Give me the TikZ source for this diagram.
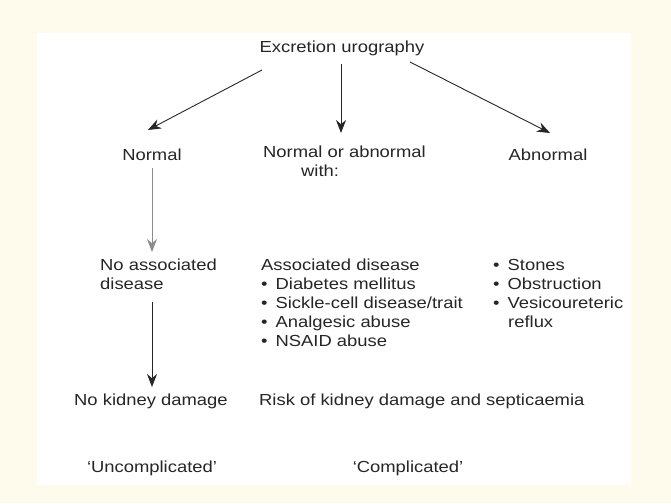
\documentclass[tikz,border=0pt]{standalone}
\usepackage{fontspec}
\setmainfont[FakeStretch=1.15]{Liberation Sans}
\usetikzlibrary{arrows.meta}
\definecolor{cream}{HTML}{FEFBEC}
\definecolor{ink}{HTML}{262626}
\tikzset{t/.style={inner sep=0pt,anchor=west,text=ink,font=\fontsize{16}{19}\selectfont},
 tc/.style={t,anchor=center},
 ar/.style={-{Stealth[length=13pt,width=10pt]},line width=0.9pt,draw=ink},
 lst/.style={t,anchor=north west,align=left}}
\begin{document}
\begin{tikzpicture}[x=1pt,y=-1pt]
\fill[cream] (0,0) rectangle (671,503);
\fill[white] (37,33) rectangle (631,485);
\node[tc] (ex) at (342,48) {Excretion urography};
\node[tc] (nor) at (152,155) {Normal};
\node[t,align=left,anchor=north west] (noa) at (263,146) {Normal or abnormal\\\hspace*{38pt}with:};
\node[tc] (ab) at (548,155) {Abnormal};
\node[lst] (nad) at (100,259) {No associated\\disease};
\node[lst] (ad) at (261,259) {Associated disease\\•\hspace{8pt}Diabetes mellitus\\•\hspace{8pt}Sickle-cell disease/trait\\•\hspace{8pt}Analgesic abuse\\•\hspace{8pt}NSAID abuse};
\node[lst] (abl) at (493,259) {•\hspace{8pt}Stones\\•\hspace{8pt}Obstruction\\•\hspace{8pt}Vesicoureteric\\\hspace*{15pt}reflux};
\node[t] (nkd) at (74,401) {No kidney damage};
\node[t] (risk) at (259,401) {Risk of kidney damage and septicaemia};
\node[tc] (unc) at (152,468) {‘Uncomplicated’};
\node[tc] (com) at (408,468) {‘Complicated’};
\coordinate (a1) at (262,70); \coordinate (b1) at (148,130);
\coordinate (a2) at (341,64); \coordinate (b2) at (341,133);
\coordinate (a3) at (410,62); \coordinate (b3) at (550,133);
\coordinate (a4) at (152,168); \coordinate (b4) at (152,252);
\coordinate (a5) at (152,302); \coordinate (b5) at (152,387);
\draw[ar] (a1) -- (b1);
\draw[ar] (a2) -- (b2);
\draw[ar] (a3) -- (b3);
\draw[ar,draw=gray!90] (a4) -- (b4);
\draw[ar] (a5) -- (b5);
\end{tikzpicture}
\end{document}
